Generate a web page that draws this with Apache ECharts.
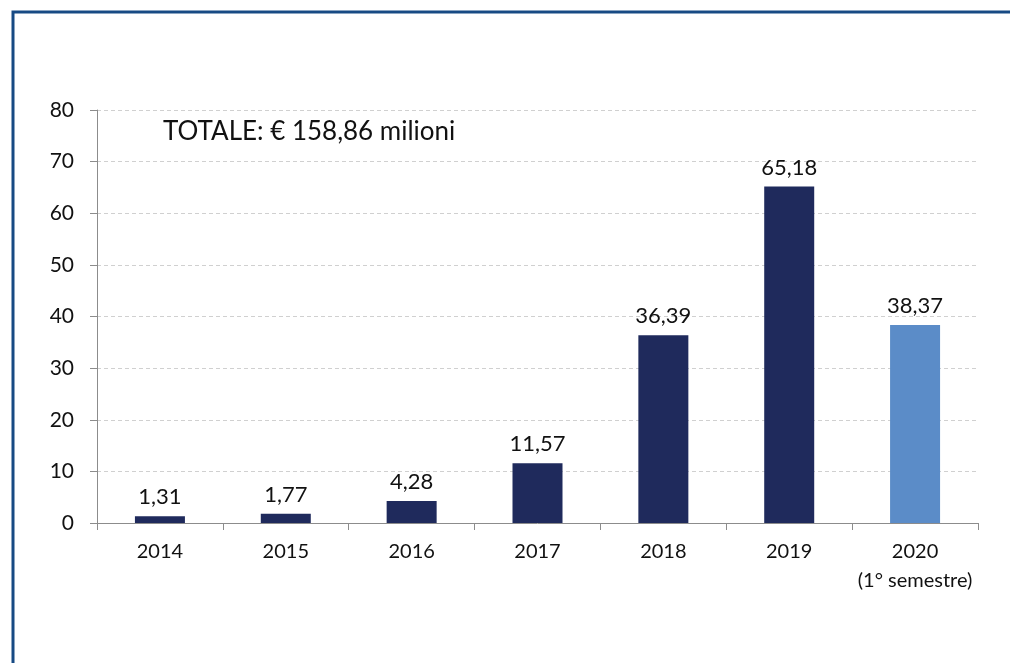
<!DOCTYPE html>
<html>
<head>
<meta charset="utf-8">
<script src="https://cdn.jsdelivr.net/npm/echarts@6/dist/echarts.min.js"></script>
<style>
html,body{margin:0;padding:0;background:#fff;}
#chart{width:1010px;height:663px;}
</style>
</head>
<body>
<div id="chart"></div>
<script>
const categories = ['2014', '2015', '2016', '2017', '2018', '2019', '2020\n(1° semestre)'];
const values = [1.31, 1.77, 4.28, 11.57, 36.39, 65.18, 38.37];
const barColors = ['#1f2a5c', '#1f2a5c', '#1f2a5c', '#1f2a5c', '#1f2a5c', '#1f2a5c', '#5b8cc8'];
const yTicks = [0, 10, 20, 30, 40, 50, 60, 70, 80];
const totalText = 'TOTALE: € 158,86 milioni';

const FONT = 'Lato, "Open Sans", sans-serif';
const chart = echarts.init(document.getElementById('chart'));
chart.setOption({
  animation: false,
  backgroundColor: '#fff',
  grid: { left: 97, right: 32, top: 110, bottom: 140 },
  graphic: [
    { type: 'rect', shape: { x: 13, y: 12, width: 1100, height: 800 },
      style: { fill: 'none', stroke: '#174a84', lineWidth: 3 } },
    { type: 'text', left: 163, top: 119,
      style: { text: totalText, fontSize: 26, fontFamily: FONT, fill: '#111' } }
  ],
  xAxis: {
    type: 'category',
    data: categories,
    boundaryGap: true,
    axisLine: { lineStyle: { color: '#8c8c8c', width: 1 } },
    axisTick: { show: true, length: 7, lineStyle: { color: '#8c8c8c' } },
    axisLabel: { color: '#111', fontSize: 20, fontFamily: FONT, margin: 14, lineHeight: 29, interval: 0 }
  },
  yAxis: {
    type: 'value',
    min: yTicks[0], max: yTicks[yTicks.length - 1], interval: 10,
    axisLine: { show: true, lineStyle: { color: '#8c8c8c', width: 1 } },
    axisTick: { show: true, inside: false, length: 7, lineStyle: { color: '#8c8c8c' } },
    axisLabel: { color: '#111', fontSize: 21, fontFamily: FONT, margin: 23 },
    splitLine: { lineStyle: { color: '#d0d0d0', type: [4, 3], width: 1 } }
  },
  series: [{
    type: 'bar',
    data: values.map((v, i) => ({ value: v, itemStyle: { color: barColors[i] } })),
    barWidth: 50,
    label: {
      show: true, position: 'top', distance: 8,
      color: '#111', fontSize: 22, fontFamily: FONT,
      formatter: p => p.value.toFixed(2).replace('.', ',')
    }
  }]
});
</script>
</body>
</html>
